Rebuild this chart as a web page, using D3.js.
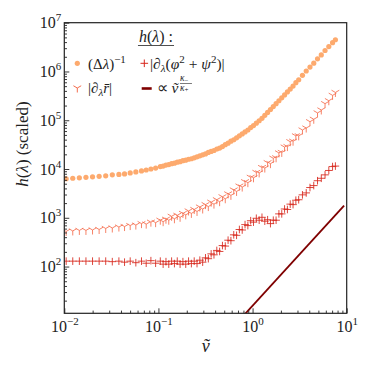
<!DOCTYPE html>
<html>
<head>
<meta charset="utf-8">
<script src="https://cdn.jsdelivr.net/npm/d3@7"></script>
<style>
  body { margin: 0; background: #fff; }
  svg { display: block; }
</style>
</head>
<body>
<div id="chart"></div>
<script>
// shared abscissa of the three measured series
const V_TILDE = [
  0.01047, 0.0123, 0.01445, 0.01698, 0.01995, 0.02344, 0.02754, 0.03236, 0.03802, 0.04365, 0.05012, 0.05754, 0.06607, 0.07413, 0.08318, 0.09333,
  0.1047, 0.1122, 0.1202, 0.1288, 0.138, 0.1479, 0.1585, 0.1698, 0.182, 0.195,
  0.2089, 0.2239, 0.2399, 0.257, 0.2754, 0.2951, 0.3162, 0.3388, 0.3631, 0.389,
  0.4169, 0.4467, 0.4786, 0.5129, 0.5495, 0.5888, 0.631, 0.6761, 0.7244, 0.7762,
  0.8318, 0.8913, 0.955, 1.023, 1.096, 1.175, 1.259, 1.349, 1.445, 1.549,
  1.66, 1.778, 1.905, 2.042, 2.188, 2.344, 2.512, 2.692, 2.884, 3.09,
  3.388, 3.715, 4.074, 4.467, 4.898, 5.37, 5.888, 6.457, 7.079, 7.586
];
// (Δλ)^-1
const INV_DELTA_LAMBDA = [
  6310, 6460, 6610, 6760, 6920, 7080, 7240, 7590, 7760, 7940, 8320, 8710, 9120, 9550, 10000, 10470,
  11220, 11480, 12020, 12300, 12880, 13180, 13800, 14130, 14790, 15140,
  15850, 16220, 16980, 17780, 18620, 19500, 20420, 21880, 22910, 23990,
  25700, 26920, 28840, 31620, 33880, 37150, 39810, 43650, 47860, 52480,
  57540, 63100, 70790, 77620, 87100, 97720, 109600, 125900, 144500, 166000,
  190500, 218800, 251200, 288400, 331100, 380200, 436500, 501200, 588800, 676100,
  831800, 1023000, 1230000, 1479000, 1820000, 2188000, 2692000, 3236000, 3890000, 4467000
];
// |∂λ r̄|
const D_RBAR = [
  525, 537, 550, 550, 562, 575, 603, 617, 646, 661, 692, 708, 759, 741, 813, 794,
  891, 832, 933, 891, 1072, 955, 1122, 1023, 1230, 1148,
  1380, 1230, 1479, 1349, 1660, 1514, 1862, 1698, 2089, 1905,
  2344, 2138, 2692, 2455, 3090, 2884, 3715, 3467, 4467, 4266,
  5495, 5248, 6761, 6607, 8511, 8318, 10720, 10470, 13490, 12880,
  16600, 16980, 21380, 21880, 28180, 28840, 36310, 37150, 47860, 47860,
  63100, 69180, 93330, 104700, 141300, 162200, 218800, 251200, 323600, 371500
];
// |∂λ(φ² + ψ²)|
const D_PHI_PSI = [
  129, 129, 129, 129, 129, 129, 129, 126, 129, 123, 129, 120, 129, 117, 132, 117,
  129, 112, 126, 112, 129, 115, 129, 112, 126, 112,
  129, 115, 129, 115, 135, 123, 151, 145, 182, 174,
  214, 204, 269, 263, 347, 339, 447, 437, 575, 562,
  724, 692, 871, 813, 977, 891, 1023, 851, 912, 759,
  891, 891, 1202, 1202, 1514, 1479, 1905, 1862, 2291, 2344,
  2951, 3236, 4169, 4571, 5754, 6457, 7586, 9333, 11220, 11480
];
// ∝ ṽ^(κ-/κ+) guide line
const POWER_LAW_V = [0.7, 9.38];
const POWER_LAW_H = [7.4, 1780];

const X_MAJOR_TICKS = [0.01, 0.1, 1, 10];
const X_TICK_EXPONENTS = ['\u22122', '\u22121', '0', '1'];
const Y_MAJOR_TICKS = [1e2, 1e3, 1e4, 1e5, 1e6, 1e7];
const Y_TICK_EXPONENTS = ['2', '3', '4', '5', '6', '7'];

const WIDTH = 374;
const HEIGHT = 374;
const LEFT = 64.3, RIGHT = 346.7, TOP = 22.7, BOTTOM = 313.3;
const SERIF = '"Liberation Serif"';
const INK = '#222';
const COL_DOT = '#fdaa6e';
const COL_TRI = '#f46d4e';
const COL_PLUS = '#d7261b';
const COL_LINE = '#7f0000';
const TRI_DOWN = 'M0,0V4.5M0,0L3.9,-2.25M0,0L-3.9,-2.25';
const PLUS = 'M-3.8,0H3.8M0,-3.8V3.8';

const svg = d3.select('#chart').append('svg')
  .attr('width', WIDTH)
  .attr('height', HEIGHT)
  .style('font-family', SERIF);

const x = d3.scaleLog().domain([0.01, 10]).range([LEFT, RIGHT]);
const y = d3.scaleLog().domain([11, 1e7]).range([BOTTOM, TOP]);

svg.append('clipPath').attr('id', 'plot-clip')
  .append('rect')
  .attr('x', LEFT).attr('y', TOP)
  .attr('width', RIGHT - LEFT).attr('height', BOTTOM - TOP);

const plot = svg.append('g').attr('clip-path', 'url(#plot-clip)');

plot.append('g').selectAll('circle')
  .data(V_TILDE.map((v, i) => [v, INV_DELTA_LAMBDA[i]]))
  .join('circle')
  .attr('cx', d => x(d[0]))
  .attr('cy', d => y(d[1]))
  .attr('r', 2.6)
  .attr('fill', COL_DOT);

plot.append('g').selectAll('path')
  .data(V_TILDE.map((v, i) => [v, D_RBAR[i]]))
  .join('path')
  .attr('transform', d => `translate(${x(d[0])},${y(d[1])})`)
  .attr('d', TRI_DOWN)
  .attr('fill', 'none')
  .attr('stroke', COL_TRI)
  .attr('stroke-opacity', 0.85)
  .attr('stroke-width', 1);

plot.append('g').selectAll('path')
  .data(V_TILDE.map((v, i) => [v, D_PHI_PSI[i]]))
  .join('path')
  .attr('transform', d => `translate(${x(d[0])},${y(d[1])})`)
  .attr('d', PLUS)
  .attr('fill', 'none')
  .attr('stroke', COL_PLUS)
  .attr('stroke-opacity', 0.85)
  .attr('stroke-width', 1);

plot.append('path')
  .datum(POWER_LAW_V.map((v, i) => [v, POWER_LAW_H[i]]))
  .attr('d', d3.line().x(d => x(d[0])).y(d => y(d[1])))
  .attr('fill', 'none')
  .attr('stroke', COL_LINE)
  .attr('stroke-width', 1.8);

// axes: ticks point inward, labels as 10^n
const isMajor = t => Math.abs(Math.log10(t) - Math.round(Math.log10(t))) < 1e-6;

function styleAxis(g) {
  g.select('.domain').remove();
  g.attr('font-family', null).attr('font-size', 16).style('font-family', SERIF);
  g.selectAll('.tick line').attr('stroke', INK).attr('stroke-width', 0.9);
  g.selectAll('.tick text').attr('fill', INK).style('font-family', SERIF);
}

function expLabels(g, exps) {
  g.selectAll('.tick text').each(function (d, i) {
    const t = d3.select(this);
    t.append('tspan').text('10');
    t.append('tspan').attr('dy', -7).attr('font-size', 11).text(exps[i]);
  });
}

svg.append('g')
  .attr('transform', `translate(0,${BOTTOM})`)
  .call(d3.axisBottom(x).tickValues(x.ticks().filter(t => !isMajor(t))).tickSize(-2.7).tickFormat(() => ''))
  .call(styleAxis);
svg.append('g')
  .attr('transform', `translate(0,${BOTTOM})`)
  .call(d3.axisBottom(x).tickValues(X_MAJOR_TICKS).tickSize(-5).tickPadding(7).tickFormat(() => ''))
  .call(styleAxis)
  .call(g => expLabels(g, X_TICK_EXPONENTS));

svg.append('g')
  .attr('transform', `translate(${LEFT},0)`)
  .call(d3.axisLeft(y).tickValues(y.ticks().filter(t => !isMajor(t))).tickSize(-2.7).tickFormat(() => ''))
  .call(styleAxis);
svg.append('g')
  .attr('transform', `translate(${LEFT},0)`)
  .call(d3.axisLeft(y).tickValues(Y_MAJOR_TICKS).tickSize(-5).tickPadding(3).tickFormat(() => ''))
  .call(styleAxis)
  .call(g => expLabels(g, Y_TICK_EXPONENTS));

svg.append('rect')
  .attr('x', LEFT).attr('y', TOP)
  .attr('width', RIGHT - LEFT).attr('height', BOTTOM - TOP)
  .attr('fill', 'none')
  .attr('stroke', INK)
  .attr('stroke-width', 1.2);

// text helper: parts = [{t, i(talic), dy, fs}]
function rich(g, px, py, parts, size, anchor) {
  const t = g.append('text')
    .attr('x', px).attr('y', py)
    .style('font-family', SERIF)
    .attr('font-size', size)
    .attr('fill', INK)
    .attr('text-anchor', anchor || 'start');
  parts.forEach(p => {
    const s = t.append('tspan').text(p.t);
    if (p.i) s.attr('font-style', 'italic');
    if (p.dy) s.attr('dy', p.dy);
    if (p.fs) s.attr('font-size', p.fs);
  });
  return t;
}

// axis titles
rich(svg.append('g').attr('transform', 'translate(28,144) rotate(-90)'), 0, 0,
  [{t: 'h', i: 1}, {t: '('}, {t: '\u03bb', i: 1}, {t: ') (scaled)'}], 17, 'middle');
rich(svg, 205.7, 352, [{t: 'v\u0303', i: 1}], 18, 'middle');

// legend
const legend = svg.append('g');
const title = rich(legend, 156, 41.5,
  [{t: 'h', i: 1}, {t: '('}, {t: '\u03bb', i: 1}, {t: ') :'}], 16, 'middle');
const tb = title.node().getBBox();
legend.append('line')
  .attr('x1', tb.x - 1).attr('x2', tb.x + tb.width + 1)
  .attr('y1', 45.5).attr('y2', 45.5)
  .attr('stroke', INK).attr('stroke-width', 0.8);

legend.append('circle').attr('cx', 77.3).attr('cy', 63.3).attr('r', 2.6).attr('fill', COL_DOT);
rich(legend, 88, 68.5, [
  {t: '(\u0394'}, {t: '\u03bb', i: 1}, {t: ')'}, {t: '\u22121', fs: 11, dy: -6}
], 15);

legend.append('path').attr('transform', 'translate(77.3,88)').attr('d', TRI_DOWN)
  .attr('fill', 'none').attr('stroke', COL_TRI).attr('stroke-width', 1);
rich(legend, 88, 93, [
  {t: '|\u2202'}, {t: '\u03bb', i: 1, fs: 11, dy: 3}, {t: 'r\u0304', i: 1, dy: -3}, {t: '|'}
], 15);

legend.append('path').attr('transform', 'translate(144.3,63.3)').attr('d', PLUS)
  .attr('fill', 'none').attr('stroke', COL_PLUS).attr('stroke-width', 1);
rich(legend, 150, 68.5, [
  {t: '|\u2202'}, {t: '\u03bb', i: 1, fs: 11, dy: 3}, {t: '(', dy: -3}, {t: '\u03c6', i: 1},
  {t: '2', fs: 11, dy: -6}, {t: ' + ', dy: 6}, {t: '\u03c8', i: 1},
  {t: '2', fs: 11, dy: -6}, {t: ')|', dy: 6}
], 15.5);

legend.append('line')
  .attr('x1', 141.7).attr('x2', 151.7).attr('y1', 88.5).attr('y2', 88.5)
  .attr('stroke', COL_LINE).attr('stroke-width', 2.6);
const prop = rich(legend, 156.7, 93, [{t: '\u221d '}, {t: 'v\u0303', i: 1}], 15.5);
const fx = 156.7 + prop.node().getComputedTextLength() + 1.5;
rich(legend, fx, 81, [{t: '\u03ba', i: 1}, {t: '\u2212', fs: 7, dy: 1.5}], 9.5);
legend.append('line').attr('x1', fx).attr('x2', fx + 12).attr('y1', 83.5).attr('y2', 83.5)
  .attr('stroke', INK).attr('stroke-width', 0.6);
rich(legend, fx, 90.5, [{t: '\u03ba', i: 1}, {t: '+', fs: 7, dy: 1.5}], 9.5);
</script>
</body>
</html>
